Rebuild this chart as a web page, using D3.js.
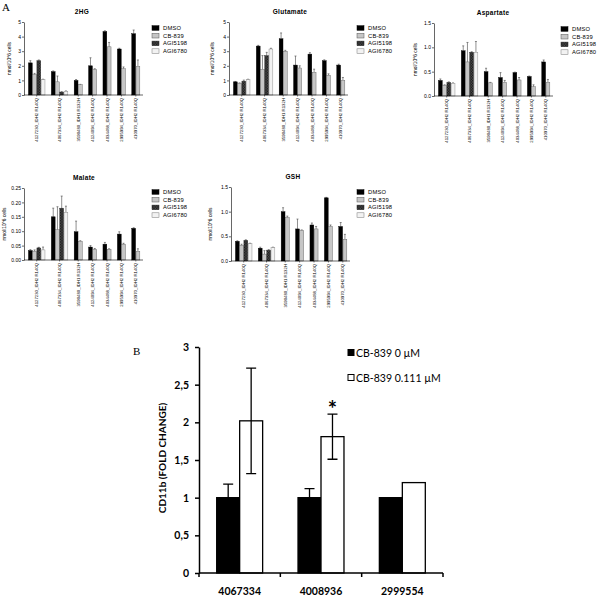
<!DOCTYPE html>
<html>
<head>
<meta charset="utf-8">
<script src="https://cdn.jsdelivr.net/npm/d3@7/dist/d3.min.js"></script>
<style>
  body { margin: 0; background: #fff; }
  svg text { font-family: "Liberation Sans", Arial, sans-serif; }
  .b-text { font-family: Lato, "Open Sans", sans-serif !important; }
</style>
</head>
<body>
<svg id="fig" width="600" height="605"></svg>
<script>
// ---- data, panel A (nmol/10^6 cells) ----
const cellLines = [
  '4127230_IDH2 R140Q', '4067334_IDH2 R140Q', '3590480_IDH1 R132H', '4124094_IDH2 R140Q',
  '4034488_IDH2 R140Q', '2995994_IDH2 R140Q', '410970_IDH2 R140Q'
];
const treatments = ['DMSO', 'CB-839', 'AGI5198', 'AGI6780'];

// one row per cell line, columns follow treatments (AGI only on first two lines)
const hg2Values = [[2.2, 1.4, 2.35, 1.05], [1.6, 0.9, 0.2, 0.25], [1.0, 0.7], [2.0, 1.75], [4.35, 3.3], [3.15, 1.8], [4.2, 1.95]];
const hg2Errors = [[0.15, 0.08, 0.05, 0.03], [0.05, 0.4, 0.03, 0.03], [0.06, 0.03], [0.55, 0.05], [0.05, 0.3], [0.05, 0.12], [0.25, 0.45]];

const gluValues = [[0.9, 0.8, 0.95, 1.05], [3.35, 1.75, 2.7, 3.15], [3.85, 3.0], [2.05, 1.85], [2.8, 1.55], [2.35, 1.35], [2.05, 1.0]];
const gluErrors = [[0.03, 0.03, 0.07, 0.03], [0.05, 0.95, 0.22, 0.05], [0.4, 0.06], [0.62, 0.15], [0.1, 0.22], [0.06, 0.1], [0.06, 0.2]];

const aspValues = [[0.32, 0.22, 0.28, 0.26], [0.93, 0.7, 0.9, 0.9], [0.5, 0.27], [0.38, 0.28], [0.48, 0.33], [0.4, 0.19], [0.7, 0.28]];
const aspErrors = [[0.03, 0.01, 0.01, 0.01], [0.1, 0.4, 0.01, 0.22], [0.07, 0.01], [0.1, 0.04], [0.01, 0.05], [0.01, 0.04], [0.04, 0.06]];

const malValues = [[0.033, 0.03, 0.042, 0.035], [0.15, 0.105, 0.18, 0.165], [0.098, 0.065], [0.045, 0.037], [0.055, 0.037], [0.09, 0.055], [0.11, 0.03]];
const malErrors = [[0.003, 0.005, 0.002, 0.01], [0.03, 0.08, 0.042, 0.022], [0.037, 0.002], [0.005, 0.003], [0.006, 0.002], [0.008, 0.003], [0.002, 0.009]];

const gshValues = [[0.4, 0.32, 0.42, 0.35], [0.26, 0.14, 0.22, 0.27], [1.0, 0.88], [0.65, 0.62], [0.73, 0.65], [1.28, 0.7], [0.7, 0.44]];
const gshErrors = [[0.01, 0.02, 0.01, 0.01], [0.02, 0.07, 0.01, 0.01], [0.08, 0.03], [0.2, 0.01], [0.04, 0.05], [0.01, 0.03], [0.08, 0.1]];

// ---- data, panel B ----
const bLines = ['4067334', '4008936', '2999554'];
const bSeries = ['CB-839 0 µM', 'CB-839 0.111 µM'];
const bValues = [[1.0, 2.02], [1.0, 1.81], [1.0, 1.2]];
const bErrors = [[0.18, 0.7], [0.12, 0.3], [0, 0]];
const bTickValues = [0, 0.5, 1, 1.5, 2, 2.5, 3];
const bTickLabels = ['0', '0,5', '1', '1,5', '2', '2,5', '3'];

const svg = d3.select('#fig');

// fills for the four treatments
const defs = svg.append('defs');
const chk = defs.append('pattern').attr('id', 'chk').attr('patternUnits', 'userSpaceOnUse')
  .attr('width', 1.6).attr('height', 1.6);
chk.append('rect').attr('width', 1.6).attr('height', 1.6).attr('fill', '#555');
chk.append('rect').attr('width', 0.8).attr('height', 0.8).attr('fill', '#111');
chk.append('rect').attr('x', 0.8).attr('y', 0.8).attr('width', 0.8).attr('height', 0.8).attr('fill', '#111');
const fills = ['#000', '#c6c6c6', 'url(#chk)', '#f2f2f2'];
const strokes = ['#000', '#555', '#222', '#777'];

function panelA(cfg) {
  const g = svg.append('g');
  const y = d3.scaleLinear().domain([0, cfg.max]).range([cfg.y0, cfg.y1]);

  // bar slots: one unit per bar, gaps between cell lines
  let u = 1;
  const slots = [];
  const groupMid = [];
  cfg.values.forEach((grp, gi) => {
    if (gi > 0) u += 1.4;
    const start = u;
    grp.forEach((v, ti) => {
      slots.push({ gi, ti, v, e: cfg.errors[gi][ti], u });
      u += 1;
    });
    groupMid.push((start + u) / 2);
  });
  const x = d3.scaleLinear().domain([0, u + 0.7]).range([cfg.x0, cfg.x1]);
  const bw = x(1) - x(0);

  g.append('text').attr('x', cfg.titleX).attr('y', cfg.y1 - 8)
    .attr('text-anchor', 'middle').attr('font-size', 6.5).attr('font-weight', 'bold')
    .attr('letter-spacing', 0.3).text(cfg.title);

  // error bars (upwards)
  g.selectAll('.err').data(slots).join('path')
    .attr('d', d => {
      const cx = x(d.u + 0.5), top = y(d.v + d.e);
      return `M${cx},${y(d.v)}V${top}M${cx - 1},${top}H${cx + 1}`;
    })
    .attr('stroke', '#444').attr('stroke-width', 0.6).attr('fill', 'none');

  g.selectAll('.bar').data(slots).join('rect')
    .attr('x', d => x(d.u) + 0.2)
    .attr('width', bw - 0.4)
    .attr('y', d => y(d.v))
    .attr('height', d => y(0) - y(d.v))
    .attr('fill', d => fills[d.ti])
    .attr('stroke', d => strokes[d.ti])
    .attr('stroke-width', 0.4);

  const ax = g.append('g').attr('transform', `translate(${cfg.x0},0)`)
    .call(d3.axisLeft(y).tickValues(cfg.ticks).tickFormat(d3.format(cfg.fmt))
      .tickSize(2).tickSizeOuter(0).tickPadding(1));
  ax.selectAll('text').attr('font-size', 5).attr('font-family', '"Liberation Sans", Arial, sans-serif');
  ax.selectAll('line,path').attr('stroke-width', 0.6);

  g.append('line').attr('x1', cfg.x0).attr('x2', cfg.x1)
    .attr('y1', y(0)).attr('y2', y(0)).attr('stroke', '#000').attr('stroke-width', 0.6);
  g.selectAll('.xt').data(groupMid).join('line')
    .attr('x1', d => x(d)).attr('x2', d => x(d))
    .attr('y1', y(0)).attr('y2', y(0) + 1.5).attr('stroke', '#000').attr('stroke-width', 0.5);

  g.selectAll('.xl').data(groupMid).join('text')
    .attr('transform', (d, i) => `translate(${x(d) + 1.5},${y(0) + 3}) rotate(-90)`)
    .attr('text-anchor', 'end').attr('font-size', 4.3)
    .text((d, i) => cellLines[i]);

  g.append('text')
    .attr('transform', `translate(${cfg.labelX},${(cfg.y0 + cfg.y1) / 2}) rotate(-90)`)
    .attr('text-anchor', 'middle').attr('font-size', 4.8)
    .text('nmol/10^6 cells');

  const lg = g.selectAll('.lg').data(treatments).join('g')
    .attr('transform', (d, i) => `translate(${cfg.legX},${cfg.legY + i * 7.7})`);
  lg.append('rect').attr('x', 0).attr('y', -2.3).attr('width', 7).attr('height', 4.6)
    .attr('fill', (d, i) => fills[i]).attr('stroke', (d, i) => strokes[i]).attr('stroke-width', 0.5);
  lg.append('text').attr('x', 11).attr('y', 2).attr('font-size', 5.8)
    .attr('letter-spacing', 0.2).text(d => d);
}

svg.append('text').attr('x', 2).attr('y', 11).attr('font-size', 11)
  .style('font-family', '"Liberation Serif", "DejaVu Serif", serif').text('A');

panelA({ title: '2HG', titleX: 82, values: hg2Values, errors: hg2Errors, max: 5, ticks: [0, 1, 2, 3, 4, 5], fmt: 'd',
  x0: 24, x1: 143, y0: 95, y1: 22, labelX: 11, legX: 152, legY: 28 });
panelA({ title: 'Glutamate', titleX: 290, values: gluValues, errors: gluErrors, max: 5, ticks: [0, 1, 2, 3, 4, 5], fmt: 'd',
  x0: 229, x1: 348, y0: 95, y1: 22, labelX: 214, legX: 357, legY: 28 });
panelA({ title: 'Aspartate', titleX: 493, values: aspValues, errors: aspErrors, max: 1.5, ticks: [0, 0.5, 1, 1.5], fmt: '.1f',
  x0: 434, x1: 553, y0: 96, y1: 23, labelX: 417, legX: 561, legY: 29 });
panelA({ title: 'Malate', titleX: 84, values: malValues, errors: malErrors, max: 0.25, ticks: [0, 0.05, 0.1, 0.15, 0.2, 0.25], fmt: '.2f',
  x0: 24, x1: 143, y0: 260, y1: 188, labelX: 6, legX: 152, legY: 192 });
panelA({ title: 'GSH', titleX: 293, values: gshValues, errors: gshErrors, max: 1.5, ticks: [0, 0.5, 1, 1.5], fmt: '.1f',
  x0: 231, x1: 350, y0: 261, y1: 187, labelX: 212, legX: 357, legY: 192 });

// ---- panel B ----
const gb = svg.append('g');
gb.append('text').attr('x', 133).attr('y', 355).attr('font-size', 11)
  .style('font-family', '"Liberation Serif", "DejaVu Serif", serif').text('B');

const by = d3.scaleLinear().domain([0, 3]).range([573, 347]);
const bx = d3.scaleBand().domain(bLines).range([199, 443]);
const bInner = d3.scaleBand().domain([0, 1]).range([0, bx.bandwidth()]).paddingOuter(0.77);
const bFills = ['#000', '#fff'];

const bBars = [];
bValues.forEach((row, i) => row.forEach((v, j) => bBars.push({ line: bLines[i], j, v, e: bErrors[i][j] })));

gb.selectAll('.bb').data(bBars).join('rect')
  .attr('x', d => bx(d.line) + bInner(d.j))
  .attr('width', bInner.bandwidth())
  .attr('y', d => by(d.v))
  .attr('height', d => by(0) - by(d.v))
  .attr('fill', d => bFills[d.j]).attr('stroke', '#000').attr('stroke-width', 1.3);

gb.selectAll('.be').data(bBars.filter(d => d.e > 0)).join('path')
  .attr('d', d => {
    const cx = bx(d.line) + bInner(d.j) + bInner.bandwidth() / 2;
    const t = by(d.v + d.e), b = by(d.v - d.e);
    return `M${cx},${b}V${t}M${cx - 5},${t}H${cx + 5}M${cx - 5},${b}H${cx + 5}`;
  })
  .attr('stroke', '#000').attr('stroke-width', 1.3).attr('fill', 'none');

const bya = gb.append('g').attr('transform', 'translate(199,0)')
  .call(d3.axisLeft(by).tickValues(bTickValues).tickFormat((d, i) => bTickLabels[i])
    .tickSize(4).tickSizeOuter(0).tickPadding(6));
bya.selectAll('text').attr('class', 'b-text').attr('font-size', 10.5).attr('font-weight', 'bold');
bya.selectAll('line,path').attr('stroke-width', 1.5);

gb.append('line').attr('x1', 199).attr('x2', 443).attr('y1', 573).attr('y2', 573)
  .attr('stroke', '#000').attr('stroke-width', 1.5);
gb.selectAll('.bxt').data(bLines.map(l => bx(l)).concat([443])).join('line')
  .attr('x1', d => d).attr('x2', d => d).attr('y1', 573).attr('y2', 577)
  .attr('stroke', '#000').attr('stroke-width', 1.5);
gb.selectAll('.bxl').data(bLines).join('text')
  .attr('class', 'b-text')
  .attr('x', d => bx(d) + bx.bandwidth() / 2).attr('y', 595)
  .attr('text-anchor', 'middle').attr('font-size', 10.5).attr('font-weight', 'bold')
  .text(d => d);

gb.append('text').attr('class', 'b-text')
  .attr('transform', 'translate(166,458) rotate(-90)')
  .attr('text-anchor', 'middle').attr('font-size', 10).attr('font-weight', 'bold')
  .text('CD11b (FOLD CHANGE)');

// significance mark over 4008936, 0.111 µM
gb.append('text').attr('class', 'b-text')
  .attr('x', bx(bLines[1]) + bInner(1) + bInner.bandwidth() / 2).attr('y', by(bValues[1][1] + bErrors[1][1]) + 3)
  .attr('text-anchor', 'middle').attr('font-size', 22).attr('font-weight', 'bold').text('*');

const blg = gb.selectAll('.blg').data(bSeries).join('g')
  .attr('transform', (d, i) => `translate(348,${353 + i * 25})`);
blg.append('rect').attr('x', 0).attr('y', -3.5).attr('width', 6).attr('height', 6)
  .attr('fill', (d, i) => bFills[i]).attr('stroke', '#000').attr('stroke-width', 1);
blg.append('text').attr('class', 'b-text').attr('x', 8).attr('y', 3.5).attr('font-size', 10.5).text(d => d);
</script>
</body>
</html>
